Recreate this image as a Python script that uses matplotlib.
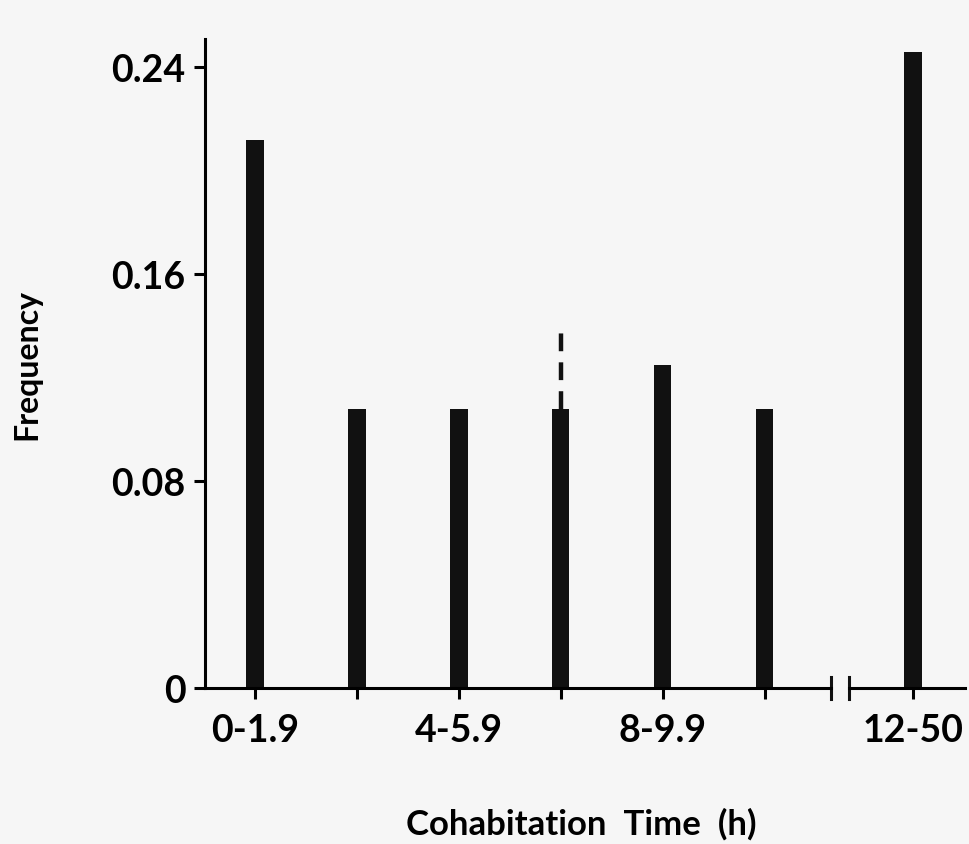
import matplotlib.pyplot as plt

# Frequency of cohabitation times
labels = ['0-1.9', '', '4-5.9', '', '8-9.9', '']
freq = [0.212, 0.108, 0.108, 0.108, 0.125, 0.108]
last_label = ['12-50']
last_freq = [0.246]
# dashed extension above the 4th bar
dash_idx = 3
dash_top = 0.140

plt.rcParams['font.family'] = ['Lato', 'DejaVu Sans']
plt.rcParams['font.weight'] = 'bold'

fig = plt.figure(figsize=(9.69, 8.45), dpi=100)
fig.patch.set_facecolor('#f6f6f6')

ax1 = fig.add_axes([205 / 969, 156 / 845, 626 / 969, 649 / 845])
ax2 = fig.add_axes([849 / 969, 156 / 845, 116 / 969, 649 / 845])

lw = 2.2
for ax in (ax1, ax2):
    ax.set_facecolor('none')
    ax.spines['top'].set_visible(False)
    ax.spines['right'].set_visible(False)
    ax.spines['bottom'].set_linewidth(lw)
    ax.spines['left'].set_linewidth(lw)
    ax.set_ylim(0, 0.251)
    ax.tick_params(axis='both', direction='out', length=8, width=lw,
                   labelsize=27, pad=6)
    ax.tick_params(axis='x', pad=10)

# main part
x = list(range(len(freq)))
ax1.bar(x, freq, width=0.17, color='#111111')
ax1.vlines(dash_idx, freq[dash_idx], dash_top, colors='#111111',
           linestyles=(0, (4, 2.5)), linewidth=3.2)
ax1.set_xlim(-0.49, 5.65)
ax1.set_xticks(x)
ax1.set_xticklabels(labels)
ax1.set_yticks([0, 0.08, 0.16, 0.24])
ax1.set_yticklabels(['0', '0.08', '0.16', '0.24'])
ax1.set_ylabel('Frequency', fontsize=23, fontweight='bold', labelpad=50)

# after the axis break
ax2.bar([0], last_freq, width=0.17, color='#111111')
ax2.set_xlim(-0.627, 0.51)
ax2.set_xticks([0])
ax2.set_xticklabels(last_label)
ax2.spines['left'].set_visible(False)
ax2.set_yticks([])

# break marks
ax1.plot([1, 1], [-0.017, 0.017], transform=ax1.transAxes, color='#111111',
         lw=lw, clip_on=False)
ax2.plot([0, 0], [-0.017, 0.017], transform=ax2.transAxes, color='#111111',
         lw=lw, clip_on=False)

fig.text(0.60, 0.005, 'Cohabitation  Time  (h)', ha='center', va='bottom',
         fontsize=25, fontweight='bold')

plt.savefig('out.png', dpi=100, facecolor=fig.get_facecolor())
